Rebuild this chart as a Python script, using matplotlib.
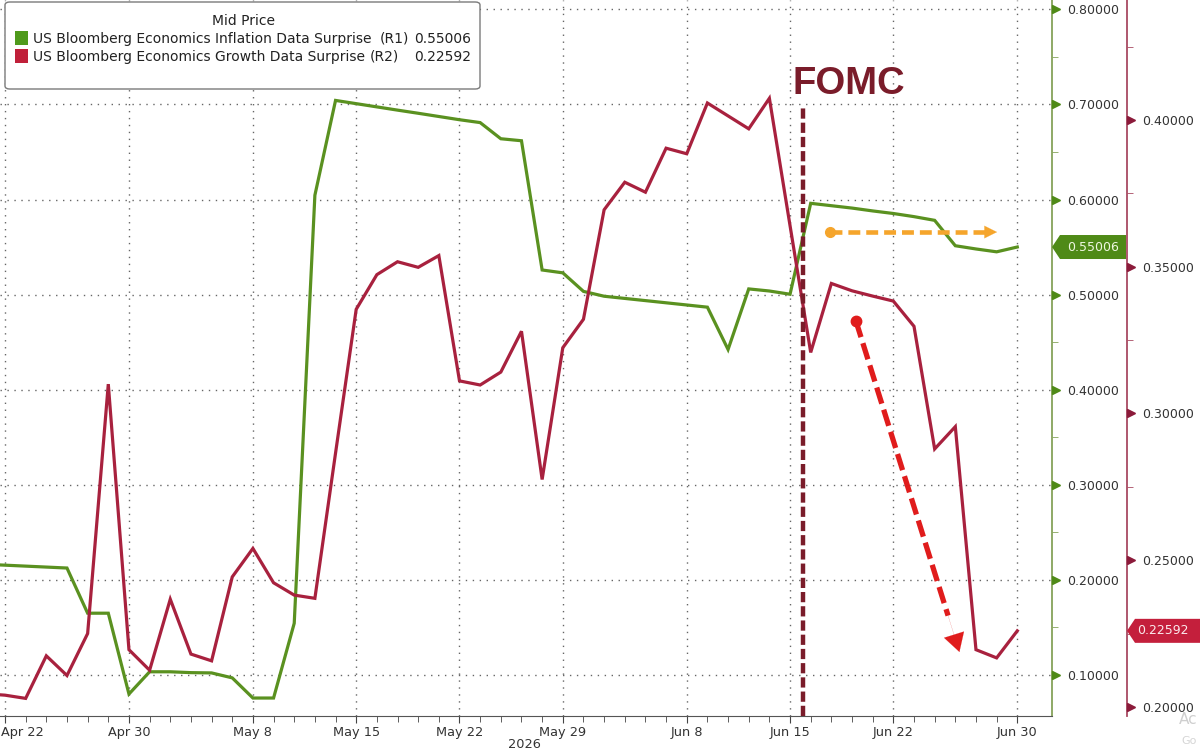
import numpy as np
import pandas as pd
import matplotlib
matplotlib.use("Agg")
import matplotlib.pyplot as plt
import matplotlib.transforms as mtransforms
from matplotlib.patches import Polygon, FancyBboxPatch, Rectangle

# ---------------- data ----------------
dates = pd.bdate_range("2026-04-21", "2026-06-30")

inflation = [0.2165, 0.2155, 0.2145, 0.2135, 0.2125, 0.1650, 0.1650, 0.0800, 0.1034, 0.1034,
             0.1025, 0.1022, 0.0970, 0.0758, 0.0758, 0.1544, 0.6045, 0.7042, 0.7008, 0.6974,
             0.6940, 0.6907, 0.6873, 0.6839, 0.6809, 0.6639, 0.6618, 0.5259, 0.5229, 0.5034,
             0.4983, 0.4960, 0.4937, 0.4914, 0.4891, 0.4868, 0.4423, 0.5060, 0.5038, 0.5004,
             0.5960, 0.5935, 0.5910, 0.5880, 0.5853, 0.5820, 0.5781, 0.5514, 0.5480, 0.5450,
             0.55006]

growth = [0.2045, 0.2040, 0.2029, 0.2174, 0.2107, 0.2250, 0.3100, 0.2195, 0.2125, 0.2367,
          0.2180, 0.2157, 0.2443, 0.2540, 0.2423, 0.2381, 0.2370, 0.2865, 0.3355, 0.3473,
          0.3517, 0.3498, 0.3538, 0.3111, 0.3097, 0.3141, 0.3280, 0.2775, 0.3224, 0.3321,
          0.3694, 0.3788, 0.3754, 0.3904, 0.3885, 0.4058, 0.4014, 0.3970, 0.4074, 0.3640,
          0.3208, 0.3443, 0.3418, 0.3400, 0.3383, 0.3297, 0.2879, 0.2955, 0.2195, 0.2167,
          0.22592]

tick_dates = ["2026-04-22", "2026-04-30", "2026-05-08", "2026-05-15", "2026-05-22",
              "2026-05-29", "2026-06-08", "2026-06-15", "2026-06-22", "2026-06-30"]
tick_labels = ["Apr 22", "Apr 30", "May 8", "May 15", "May 22",
               "May 29", "Jun 8", "Jun 15", "Jun 22", "Jun 30"]
green_ticks = [0.1, 0.2, 0.3, 0.4, 0.5, 0.6, 0.7, 0.8]
green_minor = [0.15, 0.25, 0.35, 0.45, 0.55, 0.65, 0.75]
red_ticks = [0.20, 0.25, 0.30, 0.35, 0.40]
red_minor = [0.225, 0.275, 0.325, 0.375, 0.425]

legend_title = "Mid Price"
name_inf = "US Bloomberg Economics Inflation Data Surprise"
name_gro = "US Bloomberg Economics Growth Data Surprise"
fomc_date = "2026-06-16"

# ---------------- style ----------------
GREEN = "#5a9120"
GREEN_TAG = "#4f8a17"
GREEN_SPINE = "#86a35a"
RED = "#a8213e"
RED_TAG = "#c41f3c"
RED_SPINE = "#a84a62"
MAROON = "#7a1c2a"
TXT = "#333333"
plt.rcParams["font.family"] = ["DejaVu Sans"]

W, H = 1200, 752
XLIM = (0.758, 51.68)
YLIM_G = (0.0569, 0.8098)
YLIM_R = (0.1969, 0.4409)

fig = plt.figure(figsize=(W / 100, H / 100), dpi=100)
ax = fig.add_axes([0, 36 / H, 1052 / W, 716 / H])
ax2 = ax.twinx()


def set_limits():
    ax.set_xlim(*XLIM)
    ax2.set_xlim(*XLIM)
    ax.set_ylim(*YLIM_G)
    ax2.set_ylim(*YLIM_R)


x = np.arange(len(dates))
pos = dates.get_indexer(pd.to_datetime(tick_dates))

ax.plot(x, inflation, color=GREEN, lw=2.3, solid_joinstyle="miter", zorder=3)
ax2.plot(x, growth, color=RED, lw=2.3, solid_joinstyle="miter", zorder=3)
set_limits()

# spines
for s in ["left", "top"]:
    ax.spines[s].set_visible(False)
    ax2.spines[s].set_visible(False)
ax2.spines["bottom"].set_visible(False)
ax.spines["bottom"].set_color("#555555")
ax.spines["right"].set_color(GREEN_SPINE)
ax.spines["right"].set_linewidth(1.3)
ax2.spines["right"].set_position(("axes", 1127 / 1052))
ax2.spines["right"].set_color(RED_SPINE)
ax2.spines["right"].set_linewidth(1.3)

# x ticks
ax.set_xticks(pos)
ax.set_xticklabels(tick_labels)
ax.set_xticks(x, minor=True)
ax.tick_params(axis="x", which="major", length=5, color="#444", labelsize=9.3,
               labelcolor=TXT, pad=2)
ax.tick_params(axis="x", which="minor", length=4, color="#444")
# first label kept inside the figure, as in the original
first = ax.get_xticklabels()[0]
first.set_horizontalalignment("left")
first.set_transform(first.get_transform() +
                    mtransforms.ScaledTranslation(-4 / 100, 0, fig.dpi_scale_trans))

# green axis (right)
ax.yaxis.tick_right()
ax.set_yticks(green_ticks)
ax.set_yticklabels([f"{v:.5f}" for v in green_ticks])
ax.set_yticks(green_minor, minor=True)
ax.tick_params(axis="y", which="major", length=0, pad=11, labelsize=9, labelcolor=TXT)
ax.tick_params(axis="y", which="minor", length=4, color=GREEN_SPINE, direction="out")

# red axis
ax2.set_yticks(red_ticks)
ax2.set_yticklabels([f"{v:.5f}" for v in red_ticks])
ax2.set_yticks(red_minor, minor=True)
ax2.tick_params(axis="y", which="major", length=0, pad=11, labelsize=9, labelcolor=TXT)
ax2.tick_params(axis="y", which="minor", length=4, color=RED_SPINE, direction="out")

# triangle tick markers
ax.plot(np.full(len(green_ticks), 1 + 4 / 1052), green_ticks, ls="none", marker=">",
        ms=5.5, color=GREEN_TAG, transform=ax.get_yaxis_transform(), clip_on=False, zorder=6)
ax2.plot(np.full(len(red_ticks), 1127 / 1052 + 4 / 1052), red_ticks, ls="none", marker=">",
         ms=5.5, color="#8b1a3a", transform=ax2.get_yaxis_transform(), clip_on=False, zorder=6)

# grid
ax.set_axisbelow(True)
ax.grid(axis="x", which="major", linestyle=(0, (1, 4)), color="#666666", lw=1.0)
ax.grid(axis="y", which="major", linestyle=(0, (1, 4)), color="#666666", lw=1.0)

fig.text(524 / W, 1 - 745 / H, "2026", ha="center", va="center", fontsize=9.3, color=TXT)

# FOMC line and label
fx = dates.get_loc(pd.Timestamp(fomc_date)) - 0.35
ax2.axvline(fx, ymin=0, ymax=1 - 105 / 716, color=MAROON, lw=3.2,
            linestyle=(0, (2.3, 0.9)), zorder=8)
ax2.text(fx - 0.55, 1 - 94 / 716, "FOMC", transform=ax2.get_xaxis_transform(),
         fontsize=27.5, fontweight="bold", family=["Liberation Sans", "DejaVu Sans"],
         color=MAROON, ha="left", va="baseline", zorder=9)

# orange dashed arrow (flat)
ORANGE = "#f5a52c"
o_start, o_tip, o_y = 40.93, 49.02, 0.5658
ax.plot([o_start, o_tip - 0.6], [o_y, o_y], color=ORANGE, lw=3.3,
        linestyle=(0, (2.6, 1.3)), zorder=7, solid_capstyle="butt")
ax.plot([o_start], [o_y], marker="o", ms=7, color=ORANGE, zorder=7)
ax.annotate("", xy=(o_tip, o_y), xytext=(o_tip - 0.7, o_y),
            arrowprops=dict(arrowstyle="-|>,head_length=0.9,head_width=0.45",
                            color=ORANGE, lw=0.1, shrinkA=0, shrinkB=0), zorder=7)

# red dashed arrow (falling)
BRED = "#e01c1c"
r_start, r_tip = (42.19, 0.3315), (47.2, 0.2187)
frac = 0.89
r_end = (r_start[0] + (r_tip[0] - r_start[0]) * frac, r_start[1] + (r_tip[1] - r_start[1]) * frac)
ax2.plot([r_start[0], r_end[0]], [r_start[1], r_end[1]], color=BRED, lw=3.8,
         linestyle=(0, (3.2, 1.2)), zorder=7)
ax2.plot([r_start[0]], [r_start[1]], marker="o", ms=7.5, color=BRED, zorder=7)
ax2.annotate("", xy=r_tip, xytext=r_end,
             arrowprops=dict(arrowstyle="-|>,head_length=1.3,head_width=0.75",
                             color=BRED, lw=0.1, shrinkA=0, shrinkB=0), zorder=7)

# re-apply limits after all artists were added
ax.set_autoscale_on(False)
ax2.set_autoscale_on(False)
set_limits()

# value tags on axes
ident = mtransforms.IdentityTransform()
fig.canvas.draw()
xg = ax.transAxes.transform((1, 0))[0]
yg = ax.transData.transform((0, inflation[-1]))[1]
pg = [(xg, yg), (xg + 8, yg + 12), (xg + 74, yg + 12), (xg + 74, yg - 12), (xg + 8, yg - 12)]
fig.add_artist(Polygon(pg, closed=True, transform=ident, fc=GREEN_TAG, ec="none", zorder=10))
fig.text(xg + 41, yg, f"{inflation[-1]:.5f}", transform=ident, ha="center", va="center",
         fontsize=9, color="#eef7e0", zorder=11)

xr = ax2.transAxes.transform((1127 / 1052, 0))[0]
yr = ax2.transData.transform((0, growth[-1]))[1]
pr = [(xr, yr), (xr + 8, yr + 12), (xr + 80, yr + 12), (xr + 80, yr - 12), (xr + 8, yr - 12)]
fig.add_artist(Polygon(pr, closed=True, transform=ident, fc=RED_TAG, ec="none", zorder=10))
fig.text(xr + 36, yr, f"{growth[-1]:.5f}", transform=ident, ha="center", va="center",
         fontsize=9, color="#fbe9ec", zorder=11)


# legend box
def fx_(px):
    return px / W


def fy_(py):
    return 1 - py / H


fig.add_artist(FancyBboxPatch((fx_(5), fy_(89)), 475 / W, 87 / H,
                              boxstyle="round,pad=0,rounding_size=0.004",
                              transform=fig.transFigure, fc="white", ec="#7a7a7a",
                              lw=1.0, zorder=12))
fig.text(fx_(243), fy_(21), legend_title, ha="center", va="center", fontsize=10,
         color="#222", zorder=13)
fig.add_artist(Rectangle((fx_(15), fy_(45)), 13 / W, 14 / H, transform=fig.transFigure,
                         fc="#4f9a1c", ec="none", zorder=13))
fig.add_artist(Rectangle((fx_(15), fy_(63)), 13 / W, 14 / H, transform=fig.transFigure,
                         fc="#c0203a", ec="none", zorder=13))
fig.text(fx_(33), fy_(39), name_inf, ha="left", va="center", fontsize=10, color="#222", zorder=13)
fig.text(fx_(33), fy_(57), name_gro, ha="left", va="center", fontsize=10, color="#222", zorder=13)
fig.text(fx_(380), fy_(39), "(R1)", ha="left", va="center", fontsize=10, color="#222", zorder=13)
fig.text(fx_(370), fy_(57), "(R2)", ha="left", va="center", fontsize=10, color="#222", zorder=13)
fig.text(fx_(471), fy_(39), f"{inflation[-1]:.5f}", ha="right", va="center", fontsize=10,
         color="#222", zorder=13)
fig.text(fx_(471), fy_(57), f"{growth[-1]:.5f}", ha="right", va="center", fontsize=10,
         color="#222", zorder=13)

# faint screen-capture watermark remnants (cropped in the original)
fig.text(fx_(1179), fy_(720), "Ac", fontsize=11, color="#cfcfcf", va="center")
fig.text(fx_(1181), fy_(741), "Go", fontsize=8, color="#d5d5d5", va="center")

fig.savefig("out.png", dpi=100)
